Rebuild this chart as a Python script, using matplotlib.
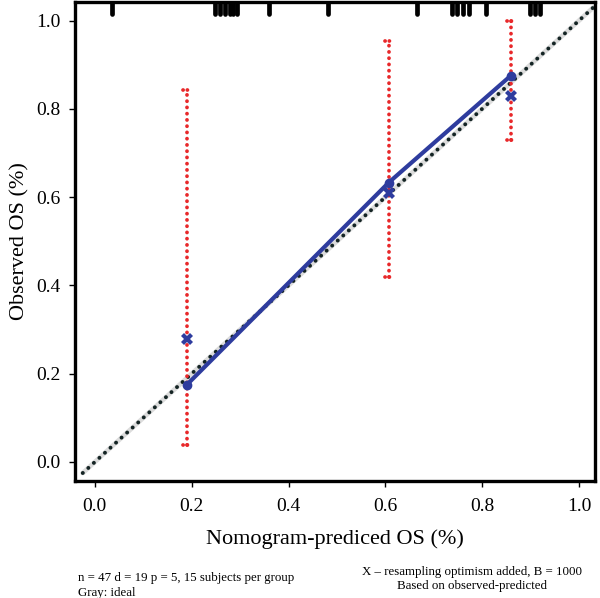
import numpy as np
import matplotlib
matplotlib.use("Agg")
import matplotlib.pyplot as plt
import matplotlib.transforms as mtransforms

# ── Data ─────────────────────────────────────────────────────────────────
group_pred = [0.19, 0.607, 0.859]          # nomogram-predicted OS per group
group_obs = [0.175, 0.633, 0.875]          # observed OS (blue dots / line)
group_corrected = [0.279, 0.609, 0.829]    # bias-corrected (X marks)
ci_low = [0.038, 0.42, 0.73]
ci_high = [0.843, 0.954, 1.0]

rug_x = [0.035, 0.248, 0.258, 0.269, 0.279, 0.285, 0.293, 0.360, 0.481,
         0.665, 0.738, 0.748, 0.760, 0.773, 0.808, 0.899, 0.909, 0.919]

ideal_x = [-0.025, 1.03]

x_ticks = [0.0, 0.2, 0.4, 0.6, 0.8, 1.0]
y_ticks = [0.0, 0.2, 0.4, 0.6, 0.8, 1.0]

BLUE = '#2e3c9e'
RED = '#e8282a'
DOTS = '#142424'

plt.rcParams['font.family'] = ['Liberation Serif', 'DejaVu Serif']
plt.rcParams['lines.scale_dashes'] = False

fig = plt.figure(figsize=(6.0, 5.98), dpi=100)
ax = fig.add_axes([0.125, 0.1957, 0.8667, 0.801])

# ideal line: light gray band with black dots on top
ax.plot(ideal_x, ideal_x, color='#dcdcdc', lw=3.4, solid_capstyle='round', zorder=1)
ax.plot(ideal_x, ideal_x, color=DOTS, lw=2.8, linestyle=(0, (0.1, 5.3)),
        dash_capstyle='round', zorder=2)

# red dotted confidence bars with small caps
for x, lo, hi in zip(group_pred, ci_low, ci_high):
    ax.plot([x, x], [lo, hi], color=RED, lw=2.7, linestyle=(0, (0.1, 4.4)),
            dash_capstyle='round', zorder=3)
    ax.plot([x - 0.007, x + 0.007], [hi, hi], color=RED, lw=2.7,
            linestyle=(0, (0.1, 3.0)), dash_capstyle='round', zorder=3)
    ax.plot([x - 0.007, x + 0.007], [lo, lo], color=RED, lw=2.7,
            linestyle=(0, (0.1, 3.0)), dash_capstyle='round', zorder=3)

# observed calibration line
ax.plot(group_pred, group_obs, color=BLUE, lw=3.0, zorder=4)
ax.plot(group_pred, group_obs, 'o', color=BLUE, ms=6, zorder=5)
ax.plot(group_pred, group_corrected, 'X', color=BLUE, ms=8.5, mew=0, zorder=5)

# rug of predicted values along the top
trans = mtransforms.blended_transform_factory(ax.transData, ax.transAxes)
ax.vlines(rug_x, 0.975, 1.0, transform=trans, color='black', lw=3.4,
          capstyle='round', zorder=6)

ax.set_xlim(-0.041, 1.033)
ax.set_ylim(-0.043, 1.042)
ax.set_xticks(x_ticks)
ax.set_yticks(y_ticks)
ax.set_xticklabels([f'{v:.1f}' for v in x_ticks])
ax.set_yticklabels([f'{v:.1f}' for v in y_ticks])
ax.tick_params(direction='out', length=4.5, width=1.0, labelsize=14, pad=6)
ax.tick_params(axis='x', pad=8)
for s in ax.spines.values():
    s.set_linewidth(2.4)

ax.set_xlabel('Nomogram-prediced OS (%)', fontsize=16, labelpad=10)
ax.set_ylabel('Observed OS (%)', fontsize=16, labelpad=4.5)

fig.text(78 / 600, 1 - 578 / 598, 'n = 47 d = 19 p = 5, 15 subjects per group',
         fontsize=9.3, va='center', ha='left')
fig.text(78 / 600, 1 - 593 / 598, 'Gray: ideal', fontsize=9.3, va='center', ha='left')
fig.text(472 / 600, 1 - 572 / 598, 'X – resampling optimism added, B = 1000',
         fontsize=9.3, va='center', ha='center')
fig.text(472 / 600, 1 - 586 / 598, 'Based on observed-predicted',
         fontsize=9.3, va='center', ha='center')

fig.savefig('out.png', dpi=100)
